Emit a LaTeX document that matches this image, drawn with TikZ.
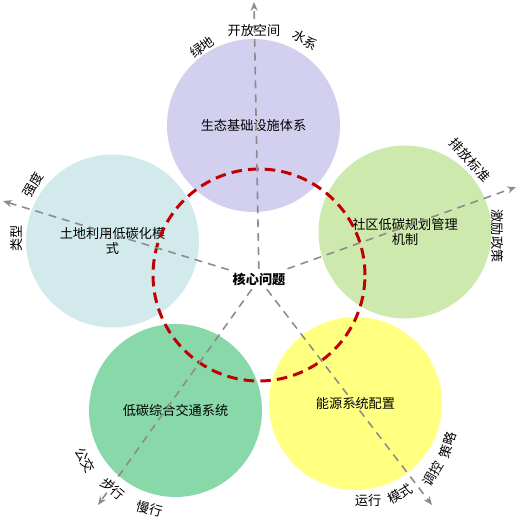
\documentclass[tikz,border=0pt]{standalone}
\usepackage{fontspec}
\setmainfont{Noto Sans CJK SC}
\usetikzlibrary{arrows.meta}
\definecolor{fillTop}{HTML}{D2D0EE}
\definecolor{fillRight}{HTML}{CDE9AD}
\definecolor{fillYellow}{HTML}{FFFF80}
\definecolor{fillGreen}{HTML}{88D8AA}
\definecolor{fillBlue}{HTML}{D2EAEC}
\definecolor{ringRed}{HTML}{C00000}
\begin{document}
\begin{tikzpicture}[x=0.02cm, y=-0.02cm, font=\fontsize{7.5}{8.6}\selectfont, circleStyle/.style={circle, inner sep=0pt, minimum size=3.46cm, align=center}, ringStyle/.style={circle, draw=ringRed, line width=1.7pt, dash pattern=on 6pt off 3.5pt, minimum size=4.24cm}, axisStyle/.style={draw=gray!90, line width=0.9pt, dash pattern=on 4.5pt off 3.4pt, -{Stealth[length=5pt, width=4pt]}}, tagStyle/.style={inner sep=1pt}, coreStyle/.style={inner sep=2pt, font=\fontsize{7.5}{8.6}\selectfont\bfseries}]
                    \useasboundingbox (0,0) rectangle (518,525);
                    \node[circleStyle, fill=fillTop]    (circ_0) at (253.5, 125.5) {生态基础设施体系};
                    \node[circleStyle, fill=fillRight]  (circ_1) at (  405,   232) {社区低碳规划管理\\机制};
                    \node[circleStyle, fill=fillYellow] (circ_2) at (355.5, 403.5) {能源系统配置};
                    \node[circleStyle, fill=fillGreen]  (circ_3) at (175.5, 410.5) {低碳综合交通系统};
                    \node[circleStyle, fill=fillBlue]   (circ_4) at (112.5,   241) {土地利用低碳化模\\式};
                    \node[ringStyle] (ring) at (259, 275) {};
                    \node[coreStyle] (core) at (259, 279) {核心问题};
                    \coordinate (tip_0) at (254,   2);
                    \coordinate (tip_1) at (516, 187);
                    \coordinate (tip_2) at (432, 505);
                    \coordinate (tip_3) at ( 98, 505);
                    \coordinate (tip_4) at (  3, 201);
                    \foreach \i in {0,...,4}
                        \draw[axisStyle] (core) -- (tip_\i);
                    \node[tagStyle]             (tag_0a) at (254,  30) {开放空间};
                    \node[tagStyle, rotate=35]  (tag_0b) at (202,  47) {绿地};
                    \node[tagStyle, rotate=-30] (tag_0c) at (305,  40) {水系};
                    \node[tagStyle, rotate=-48] (tag_1a) at (470, 160) {排放标准};
                    \node[tagStyle, rotate=-90] (tag_1b) at (497, 236) {激励政策};
                    \node[tagStyle]             (tag_2a) at (368, 501) {运行};
                    \node[tagStyle, rotate=30]  (tag_2b) at (400, 494) {模式};
                    \node[tagStyle, rotate=60]  (tag_2c) at (433, 474) {调控};
                    \node[tagStyle, rotate=72]  (tag_2d) at (448, 445) {策略};
                    \node[tagStyle, rotate=-60] (tag_3a) at ( 85, 460) {公交};
                    \node[tagStyle, rotate=-40] (tag_3b) at (113, 489) {步行};
                    \node[tagStyle, rotate=-15] (tag_3c) at (150, 509) {慢行};
                    \node[tagStyle, rotate=60]  (tag_4a) at ( 33, 185) {强度};
                    \node[tagStyle, rotate=90]  (tag_4b) at ( 17, 238) {类型};
                \end{tikzpicture}
\end{document}
